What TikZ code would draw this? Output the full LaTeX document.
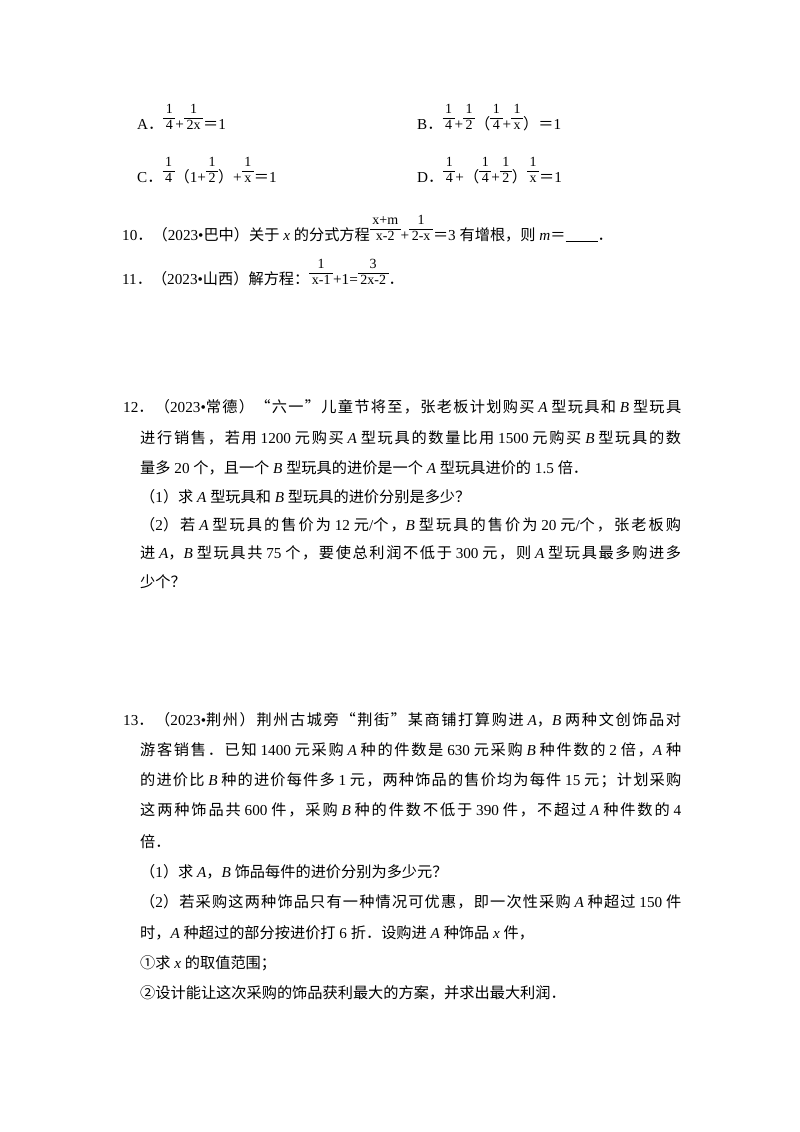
\documentclass[tikz,border=0pt]{standalone}
\usepackage{fontspec}
\setmainfont{Liberation Serif}
\newfontfamily\cjk{Noto Sans CJK SC}
\XeTeXinterchartokenstate=1
\newXeTeXintercharclass\cjkclass
\newcount\cc
\cc="4E00 \loop \XeTeXcharclass\cc=\cjkclass \advance\cc 1 \ifnum\cc<"A000 \repeat
\cc="3000 \loop \XeTeXcharclass\cc=\cjkclass \advance\cc 1 \ifnum\cc<"3040 \repeat
\cc="FF00 \loop \XeTeXcharclass\cc=\cjkclass \advance\cc 1 \ifnum\cc<"FFF0 \repeat
\cc="2460 \loop \XeTeXcharclass\cc=\cjkclass \advance\cc 1 \ifnum\cc<"2474 \repeat
\XeTeXcharclass"201C=\cjkclass
\XeTeXcharclass"201D=\cjkclass
\XeTeXinterchartoks 0 \cjkclass={\begingroup\cjk}
\XeTeXinterchartoks 4095 \cjkclass={\begingroup\cjk}
\XeTeXinterchartoks \cjkclass 0={\endgroup}
\XeTeXinterchartoks \cjkclass 4095={\endgroup}
\XeTeXinterchartoks \cjkclass \cjkclass={\hskip0pt plus 1fil\relax}
\newcommand\vv[1]{{\itshape #1}}
\newcommand\fr[2]{{\setlength\tabcolsep{0pt}\renewcommand\arraystretch{0.85}\begin{tabular}[b]{@{\,}c@{\,}}\fontsize{14}{14}\selectfont #1\\\hline\fontsize{14}{14}\selectfont #2\end{tabular}}}
\newcommand\jl[1]{\hbox to 541pt{#1}}
\newcommand\jf[1]{\hbox to 558pt{#1}}
\begin{document}
\begin{tikzpicture}[x=1pt,y=-1pt,
  every node/.style={inner sep=0pt,anchor=base west,font=\fontsize{15.2}{18}\selectfont}]
\useasboundingbox (0,0) rectangle (800,1132);
\fill[white] (0,0) rectangle (800,1132);
\node (oa) at (137,129) {A．\fr{1}{4}+\fr{1}{2x}＝1};
\node (ob) at (417,129) {B．\fr{1}{4}+\fr{1}{2}（\fr{1}{4}+\fr{1}{x}）＝1};
\node (oc) at (137,182) {C．\fr{1}{4}（1+\fr{1}{2}）+\fr{1}{x}＝1};
\node (od) at (417,182) {D．\fr{1}{4}+（\fr{1}{4}+\fr{1}{2}）\fr{1}{x}＝1};
\node (q10) at (122,240) {10．（2023•巴中）关于 \vv{x} 的分式方程\fr{x+m}{x-2}+\fr{1}{2-x}＝3 有增根，则 \vv{m}＝\underline{\hspace{32pt}}．};
\node (q11) at (122,284) {11．（2023•山西）解方程：\fr{1}{x-1}+1=\fr{3}{2x-2}．};
\node (l121) at (123,412) {\jf{12．（2023•常德）“六一”儿童节将至，张老板计划购买 \vv{A} 型玩具和 \vv{B} 型玩具}};
\node (l122) at (140,443) {\jl{进行销售，若用 1200 元购买 \vv{A} 型玩具的数量比用 1500 元购买 \vv{B} 型玩具的数}};
\node (l123) at (140,473) {量多 20 个，且一个 \vv{B} 型玩具的进价是一个 \vv{A} 型玩具进价的 1.5 倍．};
\node (l124) at (140,502) {（1）求 \vv{A} 型玩具和 \vv{B} 型玩具的进价分别是多少？};
\node (l125) at (140,530) {\jl{（2）若 \vv{A} 型玩具的售价为 12 元/个，\vv{B} 型玩具的售价为 20 元/个，张老板购}};
\node (l126) at (140,558) {\jl{进 \vv{A}，\vv{B} 型玩具共 75 个，要使总利润不低于 300 元，则 \vv{A} 型玩具最多购进多}};
\node (l127) at (140,587) {少个？};
\node (l131) at (123,725) {\jf{13．（2023•荆州）荆州古城旁“荆街”某商铺打算购进 \vv{A}，\vv{B} 两种文创饰品对}};
\node (l132) at (140,755) {\jl{游客销售．已知 1400 元采购 \vv{A} 种的件数是 630 元采购 \vv{B} 种件数的 2 倍，\vv{A} 种}};
\node (l133) at (140,785) {\jl{的进价比 \vv{B} 种的进价每件多 1 元，两种饰品的售价均为每件 15 元；计划采购}};
\node (l134) at (140,815) {\jl{这两种饰品共 600 件，采购 \vv{B} 种的件数不低于 390 件，不超过 \vv{A} 种件数的 4}};
\node (l135) at (140,847) {倍．};
\node (l136) at (140,877) {（1）求 \vv{A}，\vv{B} 饰品每件的进价分别为多少元？};
\node (l137) at (140,907) {\jl{（2）若采购这两种饰品只有一种情况可优惠，即一次性采购 \vv{A} 种超过 150 件}};
\node (l138) at (140,938) {时，\vv{A} 种超过的部分按进价打 6 折．设购进 \vv{A} 种饰品 \vv{x} 件，};
\node (l139) at (140,968) {①求 \vv{x} 的取值范围；};
\node (l1310) at (140,998) {②设计能让这次采购的饰品获利最大的方案，并求出最大利润．};
\end{tikzpicture}
\end{document}
